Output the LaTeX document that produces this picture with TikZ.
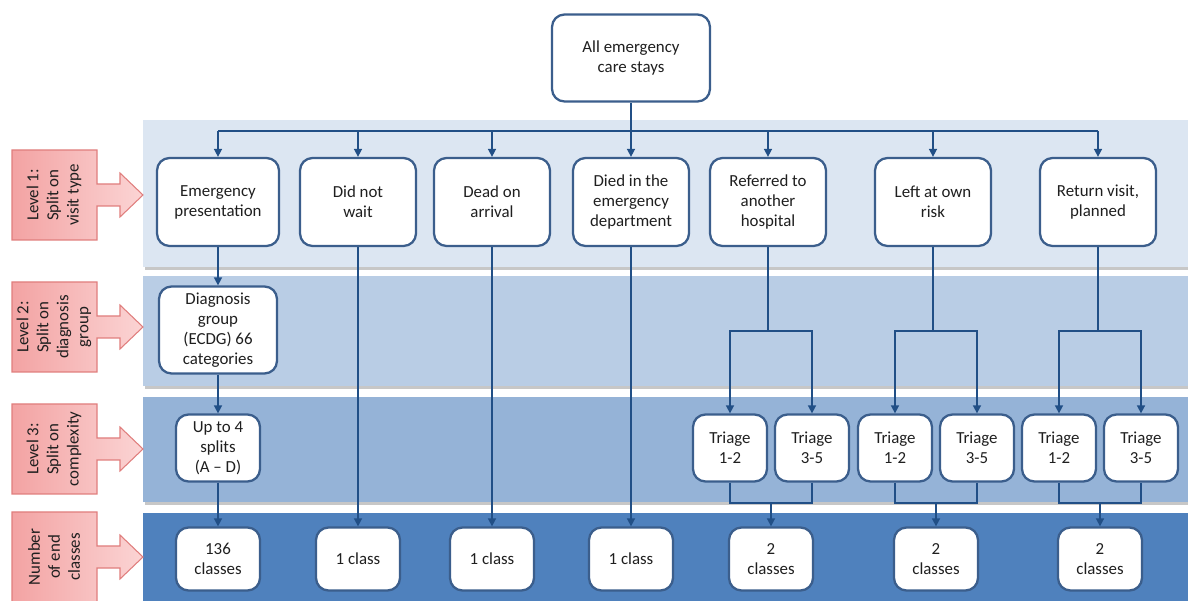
\documentclass[tikz,border=0pt]{standalone}
\usepackage{fontspec}
\setmainfont{Carlito}
\usetikzlibrary{arrows.meta}

\definecolor{bandA}{HTML}{DCE6F2}
\definecolor{bandB}{HTML}{B9CDE5}
\definecolor{bandC}{HTML}{95B3D7}
\definecolor{bandD}{HTML}{4F81BD}
\definecolor{boxline}{HTML}{3B5E8C}
\definecolor{connline}{HTML}{214F86}
\definecolor{pinkA}{HTML}{F3A3A3}
\definecolor{pinkB}{HTML}{FBD4D4}
\definecolor{pinkline}{HTML}{E07E7D}

\tikzset{
    txt/.style={font=\fontsize{9.6}{11.4}\selectfont, text=black!88},
    box/.style={txt, draw=boxline, line width=1.3pt, fill=white, rounded corners=0.25cm,
        align=center, inner sep=1pt},
    big/.style={box, minimum width=2.32cm, minimum height=1.76cm},
    small/.style={box, minimum width=1.48cm, minimum height=1.34cm},
    endc/.style={box, minimum width=1.68cm, minimum height=1.26cm},
    conn/.style={draw=connline, line width=0.9pt},
    lvl/.style={draw=pinkline, line width=0.6pt, left color=pinkA, right color=pinkB}
}

\begin{document}
\begin{tikzpicture}[x=0.02cm, y=-0.02cm, >={Triangle[length=4.5pt, width=4.5pt]}]
    \useasboundingbox (0,0) rectangle (1188,601);

    \foreach \ya/\yb/\c in {120/267/bandA, 276/386/bandB, 397/502/bandC, 513/601/bandD} {
        \fill[black!22] (145,\ya+3) rectangle (1188,\yb+3);
        \fill[\c] (143,\ya) rectangle (1188,\yb);
    }

    \foreach \yc/\lab in {195/{Level 1:\\Split on\\visit type},
            327/{Level 2:\\Split on\\diagnosis\\group},
            449/{Level 3:\\Split on\\complexity},
            557/{Number\\of end\\classes}} {
        \path[lvl] (12,\yc-45) -- (97,\yc-45) -- (97,\yc-11) -- (120,\yc-11) -- (120,\yc-22)
            -- (143,\yc) -- (120,\yc+22) -- (120,\yc+11) -- (97,\yc+11) -- (97,\yc+45)
            -- (12,\yc+45) -- cycle;
        \node[txt, rotate=90, align=center] at (54,\yc) {\lab};
    }

    \node[big, minimum width=3.16cm, minimum height=1.74cm] (all) at (631,58) {All emergency\\care stays};

    \node[big, minimum width=2.44cm] (emerg) at (218,202) {Emergency\\presentation};
    \node[big] (dnw) at (358,202) {Did not\\wait};
    \node[big] (doa) at (492,202) {Dead on\\arrival};
    \node[big] (died) at (631,202) {Died in the\\emergency\\department};
    \node[big] (ref) at (768,202) {Referred to\\another\\hospital};
    \node[big] (lor) at (933,202) {Left at own\\risk};
    \node[big] (ret) at (1098,202) {Return visit,\\planned};

    \node[big, minimum width=2.36cm, minimum height=1.74cm] (diag) at (218,330) {Diagnosis\\group\\(ECDG) 66\\categories};

    \node[small, minimum width=1.68cm] (upto) at (218,448) {Up to 4\\splits\\(A -- D)};
    \foreach \n/\x/\t in {r1/730/1-2, r2/812/3-5, l1/895/1-2, l2/977/3-5, p1/1059/1-2, p2/1141/3-5}
        \node[small] (\n) at (\x,448) {Triage\\\t};

    \node[endc] (c136) at (218,559) {136\\classes};
    \node[endc] (c1) at (358,559) {1 class};
    \node[endc] (c2) at (492,559) {1 class};
    \node[endc] (c3) at (631,559) {1 class};
    \node[endc] (cr) at (771,559) {2\\classes};
    \node[endc] (cl) at (936,559) {2\\classes};
    \node[endc] (cp) at (1100,559) {2\\classes};

    \coordinate (bus) at (631,131);
    \coordinate (split) at (0,331);
    \coordinate (join) at (0,503);

    \draw[conn] (emerg |- bus) -- (ret |- bus);
    \draw[conn, ->] (all) -- (died);
    \foreach \n in {emerg, dnw, doa, ref, lor, ret}
        \draw[conn, ->] (\n |- bus) -- (\n);

    \draw[conn, ->] (emerg) -- (diag);
    \draw[conn, ->] (diag) -- (upto);
    \draw[conn, ->] (upto) -- (c136);
    \draw[conn, ->] (dnw) -- (c1);
    \draw[conn, ->] (doa) -- (c2);
    \draw[conn, ->] (died) -- (c3);

    \foreach \p/\a/\b/\c in {ref/r1/r2/cr, lor/l1/l2/cl, ret/p1/p2/cp} {
        \draw[conn] (\p) -- (\p |- split);
        \draw[conn, ->] (\p |- split) -| (\a);
        \draw[conn, ->] (\p |- split) -| (\b);
        \draw[conn] (\a) |- (\c |- join);
        \draw[conn] (\b) |- (\c |- join);
        \draw[conn, ->] (\c |- join) -- (\c);
    }
\end{tikzpicture}
\end{document}
